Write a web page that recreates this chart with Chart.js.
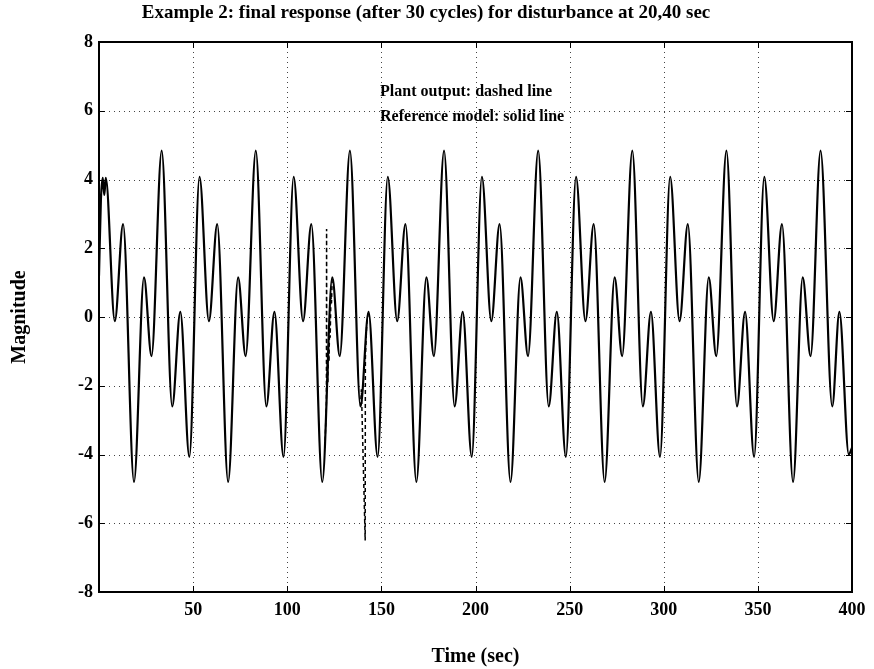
<!DOCTYPE html>
<html>
<head>
<meta charset="utf-8">
<script src="https://cdn.jsdelivr.net/npm/chart.js@4.4.1/dist/chart.umd.min.js"></script>
<style>
    html, body { margin: 0; padding: 0; background: #fff; }
    #wrap { width: 874px; height: 669px; }
</style>
</head>
<body>
<div id="wrap"><canvas id="graphResponse"></canvas></div>
<script>
// reference model (solid), turning points
var refTime = [
    0, 1.0, 2.0, 2.8, 3.6, 8.4, 12.8, 18.6, 23.9, 27.9, 33.3, 38.9, 43.2, 48.0,
    53.4, 58.4, 62.8, 68.6, 73.9, 77.9, 83.3, 88.9, 93.2, 98.0,
    103.4, 108.4, 112.8, 118.6, 123.9, 127.9, 133.3, 138.9, 143.2, 148.0,
    153.4, 158.4, 162.8, 168.6, 173.9, 177.9, 183.3, 188.9, 193.2, 198.0,
    203.4, 208.4, 212.8, 218.6, 223.9, 227.9, 233.3, 238.9, 243.2, 248.0,
    253.4, 258.4, 262.8, 268.6, 273.9, 277.9, 283.3, 288.9, 293.2, 298.0,
    303.4, 308.4, 312.8, 318.6, 323.9, 327.9, 333.3, 338.9, 343.2, 348.0,
    353.4, 358.4, 362.8, 368.7, 373.8, 378.0, 383.3, 389.5, 393.3, 398.3, 400
];
var refValue = [
    1.2, 3.4, 4.05, 3.55, 4.05, -0.12, 2.7, -4.8, 1.15, -1.14, 4.84, -2.6, 0.15, -4.07,
    4.08, -0.12, 2.7, -4.8, 1.15, -1.14, 4.84, -2.6, 0.15, -4.07,
    4.08, -0.12, 2.7, -4.8, 1.15, -1.14, 4.84, -2.6, 0.15, -4.07,
    4.08, -0.12, 2.7, -4.8, 1.15, -1.14, 4.84, -2.6, 0.15, -4.07,
    4.08, -0.12, 2.7, -4.8, 1.15, -1.14, 4.84, -2.6, 0.15, -4.07,
    4.08, -0.12, 2.7, -4.8, 1.15, -1.14, 4.84, -2.6, 0.15, -4.07,
    4.08, -0.12, 2.7, -4.8, 1.15, -1.14, 4.84, -2.6, 0.15, -4.07,
    4.08, -0.12, 2.7, -4.8, 1.15, -1.14, 4.84, -2.6, 0.15, -4.0, -3.8
];

// plant output (dashed), only where it leaves the reference: disturbances at 120 and 140
var plantTime = [
    120.0, 120.8, 120.9, 121.0, 121.3, 121.6, 121.9, 122.2, 122.5, 122.8, 123.2, 123.5, 123.9,
    130,
    138.9, 139.4, 141.4, 141.5, 142.2, 143.2
];
var plantValue = [
    -3.8, -2.5, 2.56, -2.0, -1.3, -1.9, -0.8, -1.3, -0.2, -0.6, 0.6, 0.4, 1.15,
    null,
    -2.6, -2.1, -6.5, -1.2, -0.2, 0.15
];

var xTicks = [50, 100, 150, 200, 250, 300, 350, 400];
var yTicks = [-8, -6, -4, -2, 0, 2, 4, 6, 8];

var noteLines = ['Plant output: dashed line', 'Reference model: solid line'];
var noteX = 149.3;
var noteY = [6.55, 5.82];

const serif = 'Liberation Serif';

const framePlugin = {
    id: 'frame',
    beforeDatasetsDraw(chart) {
        const {ctx, chartArea: a, scales: {x, y}} = chart;
        ctx.save();
        ctx.strokeStyle = '#444';
        ctx.lineWidth = 1;
        ctx.setLineDash([1, 4]);
        ctx.beginPath();
        xTicks.forEach(function (v) {
            const px = Math.round(x.getPixelForValue(v)) + 0.5;
            ctx.moveTo(px, a.top);
            ctx.lineTo(px, a.bottom);
        });
        yTicks.forEach(function (v) {
            const py = Math.round(y.getPixelForValue(v)) + 0.5;
            ctx.moveTo(a.left, py);
            ctx.lineTo(a.right, py);
        });
        ctx.stroke();
        ctx.restore();
    },
    afterDatasetsDraw(chart) {
        const {ctx, chartArea: a, scales: {x, y}} = chart;
        ctx.save();
        ctx.strokeStyle = '#000';
        ctx.lineWidth = 2;
        ctx.strokeRect(a.left, a.top, a.right - a.left, a.bottom - a.top);
        ctx.lineWidth = 1;
        ctx.beginPath();
        xTicks.forEach(function (v) {
            const px = Math.round(x.getPixelForValue(v)) + 0.5;
            ctx.moveTo(px, a.bottom);
            ctx.lineTo(px, a.bottom - 6);
            ctx.moveTo(px, a.top);
            ctx.lineTo(px, a.top + 6);
        });
        yTicks.forEach(function (v) {
            const py = Math.round(y.getPixelForValue(v)) + 0.5;
            ctx.moveTo(a.left, py);
            ctx.lineTo(a.left + 6, py);
            ctx.moveTo(a.right, py);
            ctx.lineTo(a.right - 6, py);
        });
        ctx.stroke();

        ctx.fillStyle = '#000';
        ctx.font = 'bold 16px "' + serif + '"';
        ctx.textBaseline = 'middle';
        ctx.textAlign = 'left';
        noteLines.forEach(function (t, i) {
            ctx.fillText(t, x.getPixelForValue(noteX), y.getPixelForValue(noteY[i]));
        });
        ctx.restore();
    }
};

function graphResponse() {
    const $grafica = document.querySelector("#graphResponse");

    const refData = refTime.map(function (t, i) { return {x: t, y: refValue[i]}; });
    const plantData = plantTime.map(function (t, i) { return {x: t, y: plantValue[i]}; });

    new Chart($grafica, {
        type: 'line',
        data: {
            datasets: [
                {
                    label: 'Plant output',
                    data: plantData,
                    borderColor: '#000',
                    borderWidth: 1.5,
                    borderDash: [4, 3],
                    fill: false,
                    tension: 0,
                    spanGaps: false,
                    pointRadius: 0,
                    order: 0
                },
                {
                    label: 'Reference model',
                    data: refData,
                    borderColor: '#000',
                    borderWidth: 2.2,
                    fill: false,
                    cubicInterpolationMode: 'monotone',
                    pointRadius: 0,
                    order: 1
                }
            ]
        },
        options: {
            responsive: true,
            maintainAspectRatio: false,
            animation: false,
            layout: {
                padding: {top: 0, right: 22, bottom: 0, left: 0}
            },
            plugins: {
                legend: {display: false},
                tooltip: {enabled: false},
                title: {
                    display: true,
                    text: 'Example 2: final response (after 30 cycles) for disturbance at 20,40 sec',
                    color: '#000',
                    font: {family: serif, size: 19, weight: 'bold'},
                    padding: {top: 2, bottom: 17.2}
                }
            },
            scales: {
                x: {
                    type: 'linear',
                    min: 0,
                    max: 400,
                    afterBuildTicks: function (s) { s.ticks = xTicks.map(function (v) { return {value: v}; }); },
                    afterFit: function (s) { s.height = 77; },
                    grid: {display: false, drawTicks: false},
                    border: {display: false},
                    ticks: {
                        color: '#000',
                        padding: 8,
                        maxRotation: 0,
                        font: {family: serif, size: 18, weight: 'bold'}
                    },
                    title: {
                        display: true,
                        text: 'Time (sec)',
                        color: '#000',
                        font: {family: serif, size: 20, weight: 'bold'},
                        padding: {top: 6, bottom: 0}
                    }
                },
                y: {
                    type: 'linear',
                    min: -8,
                    max: 8,
                    afterBuildTicks: function (s) { s.ticks = yTicks.map(function (v) { return {value: v}; }); },
                    afterFit: function (s) { s.width = 99; },
                    grid: {display: false, drawTicks: false},
                    border: {display: false},
                    ticks: {
                        color: '#000',
                        padding: 6,
                        font: {family: serif, size: 18, weight: 'bold'}
                    },
                    title: {
                        display: true,
                        text: 'Magnitude',
                        color: '#000',
                        font: {family: serif, size: 20, weight: 'bold'},
                        padding: {top: 8, bottom: 0}
                    }
                }
            }
        },
        plugins: [framePlugin]
    });
}

graphResponse();
</script>
</body>
</html>
